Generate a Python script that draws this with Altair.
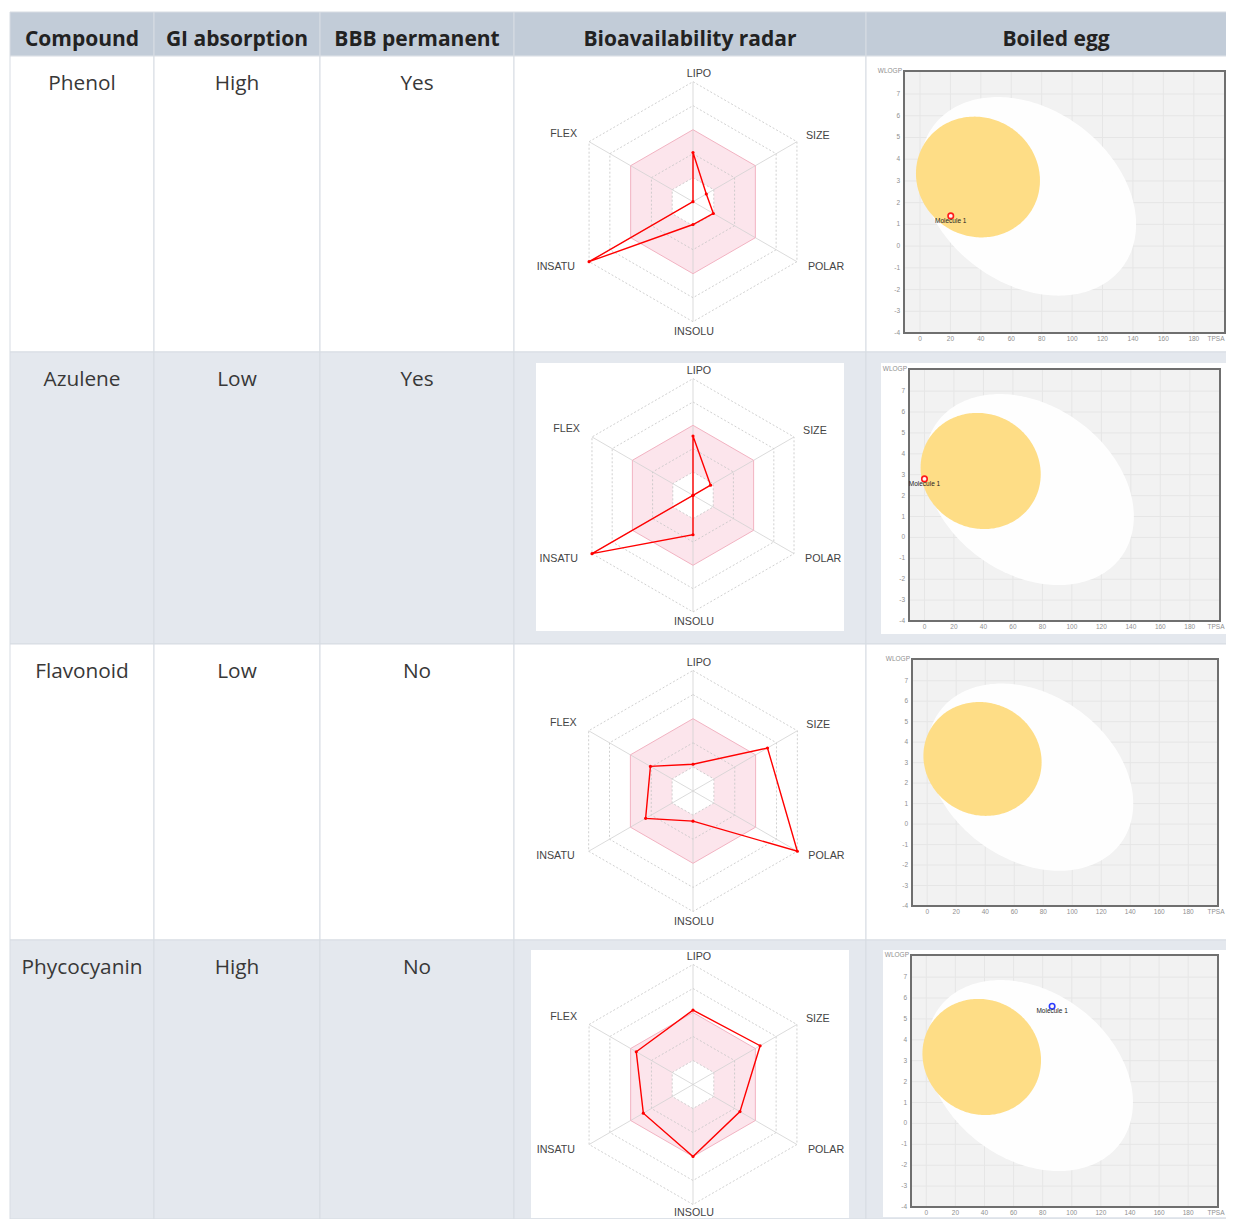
import math
import altair as alt
import pandas as pd

# ---------------- data ----------------
headers = ["Compound", "GI absorption", "BBB permanent", "Bioavailability radar", "Boiled egg"]
compounds = ["Phenol", "Azulene", "Flavonoid", "Phycocyanin"]
gi_absorption = ["High", "Low", "Low", "High"]
bbb_permeant = ["Yes", "Yes", "No", "No"]

radar_axes = ["LIPO", "SIZE", "POLAR", "INSOLU", "INSATU", "FLEX"]
radar_phenol = [2.05, 0.64, 0.98, 0.95, 5.0, 0.0]
radar_azulene = [2.54, 0.87, 0.0, 1.69, 5.0, 0.0]
radar_flavonoid = [1.11, 3.57, 5.0, 1.25, 2.27, 2.04]
radar_phycocyanin = [3.10, 3.23, 2.26, 3.00, 2.39, 2.73]
radar_values = [radar_phenol, radar_azulene, radar_flavonoid, radar_phycocyanin]
radar_levels = [1, 2, 3, 4, 5]
radar_band = [1, 3]          # pink optimal band (inner, outer level)

egg_tpsa = [20.23, 0.0, None, 86.5]
egg_wlogp = [1.39, 2.80, None, 5.61]
egg_marker = ["#ff1a1a", "#ff1a1a", None, "#2b3cff"]
egg_point_label = "Molecule 1"
tpsa_ticks = [0, 20, 40, 60, 80, 100, 120, 140, 160, 180]
wlogp_ticks = [-4, -3, -2, -1, 0, 1, 2, 3, 4, 5, 6, 7]
tpsa_range = [-10.5, 200.5]
wlogp_range = [-4.0, 8.06]
# BOILED-Egg regions: centre TPSA, centre WLOGP, half-width, half-height, xy coupling
egg_white = (71.05, 2.29, 71.0, 4.57, -91.4)
egg_yolk = (38.12, 3.18, 40.75, 2.78, -6.5)

# ---------------- layout / style ----------------
BORDER = "#d7dce3"
HEAD_BG = "#c2ccd8"
ROW_BG = ["#ffffff", "#e4e8ee", "#ffffff", "#e4e8ee"]
COL_W = [144, 166, 194, 352, 380]
HEAD_H = 44
ROW_H = [296, 292, 296, 279]
COL_X = [sum(COL_W[:j]) for j in range(5)]
ROW_Y = [HEAD_H + sum(ROW_H[:i]) for i in range(4)]
CW = 1216                      # visible canvas width (last column runs past the edge)
CH = HEAD_H + sum(ROW_H)
TEXT_X = [72, 83, 97, 176, 190]
BASELINE = 34

RADAR_GEOM = [  # cx, cy, px per level, white image box, INSOLU label gap
    (179, 145.7, 24.0, None, 10),
    (179, 143.3, 23.33, (22, 11, 330, 279), 10),
    (179, 147.0, 24.1, None, 10),
    (179, 144.5, 24.0, (17, 10, 335, 286), 8),
]
EGG_GEOM = [  # frame (l, t, r, b), white image box
    ((38, 15, 359, 277), None),
    ((43, 17, 354, 269), (15, 11, 363, 282)),
    ((46, 15, 352, 262), None),
    ((45, 15, 352, 267), (17, 10, 363, 277)),
]
LABEL_OFF = {"LIPO": (6, -8, "center"), "SIZE": (9, -6, "left"), "POLAR": (11, 5, "left"),
             "INSOLU": (1, 10, "center"), "INSATU": (-14, 5, "right"), "FLEX": (-12, -8, "right")}
ANG = [90 - 60 * k for k in range(6)]
ONE = pd.DataFrame({"a": [0]})


def pol(r, k):
    a = math.radians(ANG[k % 6])
    return r * math.cos(a), r * math.sin(a)


def rect_px(x0, y0, x1, y1, **kw):
    return alt.Chart(ONE).mark_rect(**kw).encode(
        x=alt.value(x0), x2=alt.value(x1), y=alt.value(y0), y2=alt.value(y1))


def cell_bg(x0, y0, w, h, bg):
    return rect_px(x0, y0, x0 + w, y0 + h, fill=bg, stroke=BORDER, strokeWidth=1)


def text_cell(text, x0, y0, tx, bold):
    df = pd.DataFrame({"label": [text]})
    return alt.Chart(df).mark_text(
        font="Open Sans", fontSize=21 if bold else 20.8, fontWeight="bold" if bold else "normal",
        color="#222222" if bold else "#383838", align="center", baseline="alphabetic"
    ).encode(x=alt.value(x0 + tx), y=alt.value(y0 + BASELINE), text="label:N")


def radar_cell(vals, x0, y0, h, geom):
    cx, cy, u, box, bottom_gap = geom
    ox, oy = x0 + cx, y0 + cy
    sx = alt.Scale(domain=[-ox / u, (CW - ox) / u], nice=False, zero=False)
    sy = alt.Scale(domain=[-(CH - oy) / u, oy / u], nice=False, zero=False)
    X = lambda f: alt.X(f, type="quantitative", scale=sx, axis=None)
    Y = lambda f: alt.Y(f, type="quantitative", scale=sy, axis=None)
    out = []
    if box:
        bx0, by0, bx1, by1 = box
        out.append(rect_px(x0 + bx0, y0 + by0, x0 + bx1, y0 + min(by1, h - 1), fill="#ffffff"))

    def hex_df(r):
        c = math.cos(math.radians(30))
        return pd.DataFrame({"x": [-r * c, 0, r * c], "y": [r / 2, r, r / 2], "y2": [-r / 2, -r, -r / 2]})

    out.append(alt.Chart(hex_df(radar_band[1])).mark_area(color="#fce5ec", opacity=1).encode(
        x=X("x"), y=Y("y"), y2="y2"))
    out.append(alt.Chart(hex_df(radar_band[0])).mark_area(color="#ffffff", opacity=1).encode(
        x=X("x"), y=Y("y"), y2="y2"))

    rings = pd.DataFrame([{"level": L, "k": k, "x": pol(L, k)[0], "y": pol(L, k)[1]}
                          for L in radar_levels for k in range(7)])
    out.append(alt.Chart(rings).transform_filter(f"datum.level != {radar_band[1]}").mark_line(
        color="#c4c4c4", strokeWidth=0.8, strokeDash=[2, 2]).encode(
        x=X("x"), y=Y("y"), detail="level:N", order="k:Q"))
    spokes = pd.DataFrame({"x": [0.0] * 6, "y": [0.0] * 6,
                           "x2": [pol(5, k)[0] for k in range(6)], "y2": [pol(5, k)[1] for k in range(6)]})
    out.append(alt.Chart(spokes).mark_rule(color="#d2d2d2", strokeWidth=0.8).encode(
        x=X("x"), y=Y("y"), x2="x2", y2="y2"))
    out.append(alt.Chart(rings).transform_filter(f"datum.level == {radar_band[1]}").mark_line(
        color="#f2b3c2", strokeWidth=1).encode(x=X("x"), y=Y("y"), order="k:Q"))

    poly = pd.DataFrame([{"k": k, "axis": radar_axes[k % 6],
                          "x": pol(vals[k % 6], k)[0], "y": pol(vals[k % 6], k)[1]} for k in range(7)])
    out.append(alt.Chart(poly).mark_line(color="#ff0000", strokeWidth=1.4).encode(
        x=X("x"), y=Y("y"), order="k:Q"))
    out.append(alt.Chart(poly.iloc[:6]).mark_point(filled=True, color="#ff0000", size=10, opacity=1).encode(
        x=X("x"), y=Y("y")))

    for align in ["left", "center", "right"]:
        rows = []
        for k, a in enumerate(radar_axes):
            dx, dy, al = LABEL_OFF[a]
            if a == "INSOLU":
                dy = bottom_gap
            if al != align:
                continue
            vx, vy = pol(5, k)
            rows.append({"label": a, "x": vx + dx / u, "y": vy - dy / u})
        out.append(alt.Chart(pd.DataFrame(rows)).mark_text(
            font="Liberation Sans", fontSize=10.7, color="#444444", align=align, baseline="middle").encode(
            x=X("x"), y=Y("y"), text="label:N"))
    return out


def ellipse_df(params, n=120):
    cx, cy, W, H, Mxy = params
    c = Mxy / W
    K = math.sqrt(H * H - c * c)
    rows = []
    for i in range(n + 1):
        t = math.pi * i / n
        rows.append({"x": cx + W * math.cos(t),
                     "y": cy + c * math.cos(t) + K * math.sin(t),
                     "y2": cy + c * math.cos(t) - K * math.sin(t)})
    return pd.DataFrame(rows)


def egg_cell(i, x0, y0, h, geom):
    (l, t, r, b), box = geom
    X0, X1 = tpsa_range
    Y0, Y1 = wlogp_range
    kx = (r - l) / (X1 - X0)
    ky = (b - t) / (Y1 - Y0)
    fl, fb = x0 + l, y0 + b
    sx = alt.Scale(domain=[X0 - fl / kx, X0 + (CW - fl) / kx], nice=False, zero=False)
    sy = alt.Scale(domain=[Y0 - (CH - fb) / ky, Y0 + fb / ky], nice=False, zero=False)
    X = lambda f: alt.X(f, type="quantitative", scale=sx, axis=None)
    Y = lambda f: alt.Y(f, type="quantitative", scale=sy, axis=None)
    out = []
    if box:
        bx0, by0, bx1, by1 = box
        out.append(rect_px(x0 + bx0, y0 + by0, x0 + bx1, y0 + min(by1, h - 1), fill="#ffffff"))
    frame = pd.DataFrame({"x": [X0], "x2": [X1], "y": [Y0], "y2": [Y1]})
    out.append(alt.Chart(frame).mark_rect(color="#f2f2f2").encode(x=X("x"), x2="x2", y=Y("y"), y2="y2"))
    vg = pd.DataFrame({"x": tpsa_ticks, "y": [Y0] * len(tpsa_ticks), "y2": [Y1] * len(tpsa_ticks)})
    hg = pd.DataFrame({"y": wlogp_ticks, "x": [X0] * len(wlogp_ticks), "x2": [X1] * len(wlogp_ticks)})
    out.append(alt.Chart(vg).mark_rule(color="#e6e6e6", strokeWidth=1).encode(x=X("x"), y=Y("y"), y2="y2"))
    out.append(alt.Chart(hg).mark_rule(color="#e6e6e6", strokeWidth=1).encode(y=Y("y"), x=X("x"), x2="x2"))
    out.append(alt.Chart(ellipse_df(egg_white)).mark_area(color="#ffffff", opacity=0.93).encode(
        x=X("x"), y=Y("y"), y2="y2"))
    out.append(alt.Chart(ellipse_df(egg_yolk)).mark_area(color="#fedd86", opacity=1).encode(
        x=X("x"), y=Y("y"), y2="y2"))
    out.append(alt.Chart(frame).mark_rect(filled=False, color="#6f6f6f", strokeWidth=2).encode(
        x=X("x"), x2="x2", y=Y("y"), y2="y2"))
    xl = pd.DataFrame({"x": tpsa_ticks, "y": [Y0] * len(tpsa_ticks), "t": [str(v) for v in tpsa_ticks]})
    yl = pd.DataFrame({"x": [X0] * len(wlogp_ticks), "y": wlogp_ticks, "t": [str(v) for v in wlogp_ticks]})
    tick_style = dict(font="Liberation Sans", fontSize=6.5, color="#8f8f8f", baseline="middle")
    out.append(alt.Chart(xl).mark_text(align="center", dy=6, **tick_style).encode(
        x=X("x"), y=Y("y"), text="t:N"))
    out.append(alt.Chart(yl).mark_text(align="right", dx=-4, **tick_style).encode(
        x=X("x"), y=Y("y"), text="t:N"))
    out.append(alt.Chart(pd.DataFrame({"x": [X0], "y": [Y1], "t": ["WLOGP"]})).mark_text(
        align="right", dx=-2, **tick_style).encode(x=X("x"), y=Y("y"), text="t:N"))
    tpsa_shift = min(0, CW - 2 - (x0 + r + 8))   # keep the axis name inside the visible canvas
    out.append(alt.Chart(pd.DataFrame({"x": [X1], "y": [Y0], "t": ["TPSA"]})).mark_text(
        align="center", dy=6, dx=tpsa_shift, **tick_style).encode(x=X("x"), y=Y("y"), text="t:N"))
    if egg_tpsa[i] is not None:
        pt = pd.DataFrame({"x": [egg_tpsa[i]], "y": [egg_wlogp[i]], "t": [egg_point_label]})
        out.append(alt.Chart(pt).mark_point(shape="circle", size=30, filled=False, color=egg_marker[i],
                                            fill="#fff4f4", fillOpacity=1, strokeWidth=1.6, opacity=1).encode(
            x=X("x"), y=Y("y")))
        out.append(alt.Chart(pt).mark_text(font="Liberation Sans", fontSize=6.5, color="#222222",
                                           align="center", baseline="middle", dy=5).encode(
            x=X("x"), y=Y("y"), text="t:N"))
    return out


layers = []
for j, hd in enumerate(headers):
    layers.append(cell_bg(COL_X[j], 0, COL_W[j], HEAD_H, HEAD_BG))
    layers.append(text_cell(hd, COL_X[j], 0, TEXT_X[j], True))
for i in range(4):
    y0, h, bg = ROW_Y[i], ROW_H[i], ROW_BG[i]
    for j in range(5):
        layers.append(cell_bg(COL_X[j], y0, COL_W[j], h, bg))
    layers.append(text_cell(compounds[i], COL_X[0], y0, COL_W[0] / 2, False))
    layers.append(text_cell(gi_absorption[i], COL_X[1], y0, COL_W[1] / 2, False))
    layers.append(text_cell(bbb_permeant[i], COL_X[2], y0, COL_W[2] / 2, False))
    layers += radar_cell(radar_values[i], COL_X[3], y0, h, RADAR_GEOM[i])
    layers += egg_cell(i, COL_X[4], y0, h, EGG_GEOM[i])

chart = alt.layer(*layers).resolve_scale(x="independent", y="independent").properties(
    width=CW, height=CH,
    autosize=alt.AutoSizeParams(type="none"),
    padding={"left": 2, "top": 4, "right": 0, "bottom": 0},
).configure_view(strokeWidth=0).configure(background="#ffffff")

chart.save("out.html", embed_options={"renderer": "svg", "actions": False})
